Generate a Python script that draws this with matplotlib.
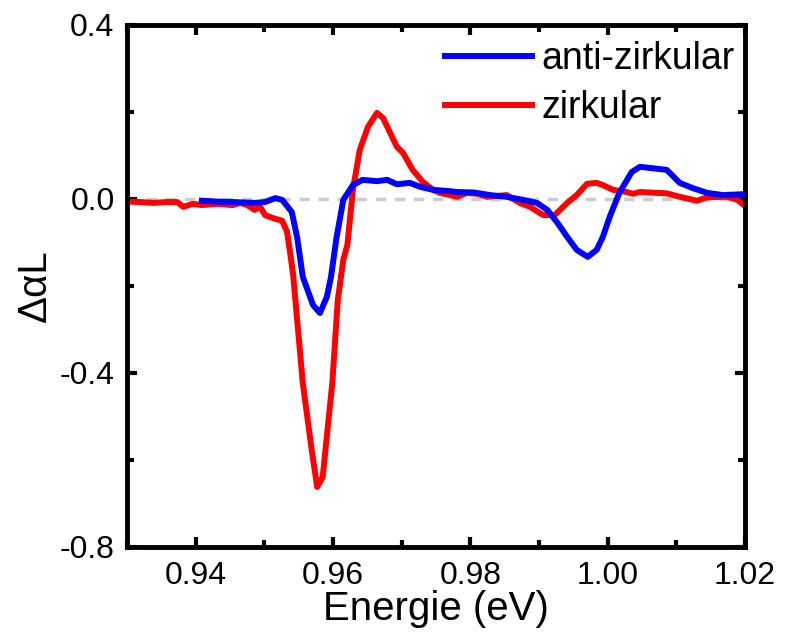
import matplotlib
matplotlib.use("Agg")
import matplotlib.pyplot as plt
from matplotlib.ticker import MultipleLocator

plt.rcParams['font.family'] = ['Liberation Sans', 'DejaVu Sans']

# zirkular (red)
x_zirk = [0.9304, 0.9319, 0.9338, 0.9358, 0.9373, 0.9382, 0.9396, 0.9409, 0.9431, 0.9454,
          0.9465, 0.9475, 0.9486, 0.9494, 0.9501, 0.9513, 0.9526, 0.9533, 0.9537, 0.9542,
          0.9556, 0.9569, 0.9577, 0.9585, 0.9599, 0.9607, 0.9615, 0.9621, 0.9629, 0.9639,
          0.9651, 0.9664, 0.9673, 0.9693, 0.9702, 0.9716, 0.9731, 0.9746, 0.9756, 0.9770,
          0.9781, 0.9795, 0.9810, 0.9824, 0.9853, 0.9872, 0.9887, 0.9906, 0.9923, 0.9941,
          0.9955, 0.9970, 0.9984, 0.9993, 1.0008, 1.0028, 1.0037, 1.0047, 1.0086, 1.0105,
          1.0130, 1.0145, 1.0174, 1.0189, 1.0200]
y_zirk = [-0.006, -0.007, -0.009, -0.007, -0.007, -0.018, -0.011, -0.014, -0.011, -0.014,
          -0.009, -0.014, -0.025, -0.018, -0.037, -0.044, -0.050, -0.075, -0.117, -0.175,
          -0.423, -0.577, -0.662, -0.639, -0.423, -0.232, -0.140, -0.105, 0.021, 0.113,
          0.166, 0.198, 0.186, 0.120, 0.106, 0.067, 0.039, 0.021, 0.014, 0.009,
          0.005, 0.014, 0.012, 0.005, 0.009, -0.009, -0.018, -0.037, -0.037, -0.009,
          0.009, 0.035, 0.037, 0.032, 0.021, 0.016, 0.012, 0.016, 0.013, 0.005,
          -0.004, 0.004, 0.005, -0.002, -0.016]

# anti-zirkular (blue)
x_anti = [0.9409, 0.9431, 0.9454, 0.9486, 0.9501, 0.9516, 0.9526, 0.9540, 0.9548, 0.9556,
          0.9571, 0.9581, 0.9591, 0.9597, 0.9605, 0.9615, 0.9629, 0.9643, 0.9664, 0.9679,
          0.9693, 0.9712, 0.9727, 0.9746, 0.9770, 0.9781, 0.9805, 0.9829, 0.9853, 0.9877,
          0.9897, 0.9912, 0.9927, 0.9941, 0.9955, 0.9971, 0.9984, 0.9993, 1.0003, 1.0017,
          1.0035, 1.0047, 1.0086, 1.0105, 1.0124, 1.0145, 1.0168, 1.0196]
y_anti = [-0.004, -0.006, -0.007, -0.009, -0.007, 0.002, -0.002, -0.030, -0.090, -0.179,
          -0.244, -0.262, -0.225, -0.180, -0.090, -0.002, 0.032, 0.044, 0.041, 0.044,
          0.034, 0.037, 0.028, 0.021, 0.018, 0.016, 0.015, 0.009, 0.005, -0.002,
          -0.009, -0.025, -0.055, -0.087, -0.117, -0.133, -0.117, -0.087, -0.041, 0.014,
          0.062, 0.074, 0.067, 0.037, 0.025, 0.014, 0.009, 0.011]

fig = plt.figure(figsize=(7.85, 6.32), dpi=100)
ax = fig.add_axes([127/785, 1 - 547/632, (745 - 127)/785, (547 - 25)/632])

ax.axhline(0, color='#cccccc', linestyle=(0, (3, 2.5)), linewidth=2.5, zorder=1)
ax.plot(x_anti, y_anti, color='#0000ff', linewidth=4.3, label='anti-zirkular', zorder=3)
ax.plot(x_zirk, y_zirk, color='#ff0000', linewidth=4.3, label='zirkular', zorder=2)

ax.set_xlim(0.93, 1.02)
ax.set_ylim(-0.8, 0.4)
ax.xaxis.set_major_locator(MultipleLocator(0.02))
ax.xaxis.set_minor_locator(MultipleLocator(0.01))
ax.yaxis.set_major_locator(MultipleLocator(0.4))
ax.yaxis.set_minor_locator(MultipleLocator(0.2))
ax.xaxis.set_major_formatter(plt.FuncFormatter(lambda v, p: f"{v:.2f}"))
ax.yaxis.set_major_formatter(plt.FuncFormatter(lambda v, p: f"{v:.1f}"))

for s in ax.spines.values():
    s.set_linewidth(3.5)
ax.tick_params(which='both', direction='in', top=True, right=True, width=3, labelsize=23)
ax.tick_params(which='major', length=7)
ax.tick_params(axis='x', which='major', pad=10)
ax.tick_params(axis='y', which='major', pad=9)
ax.tick_params(which='minor', length=5)

ax.set_xlabel('Energie (eV)', fontsize=29, labelpad=-1)
ax.set_ylabel('ΔαL', fontsize=29, labelpad=4)

leg = ax.legend(loc='upper right', bbox_to_anchor=(1.026, 1.02), frameon=False, fontsize=27,
                handlelength=2.3, handletextpad=0.27, labelspacing=0.35, borderaxespad=0.3)
for h in leg.legend_handles:
    h.set_linewidth(4.3)

fig.savefig('out.png', dpi=100)
